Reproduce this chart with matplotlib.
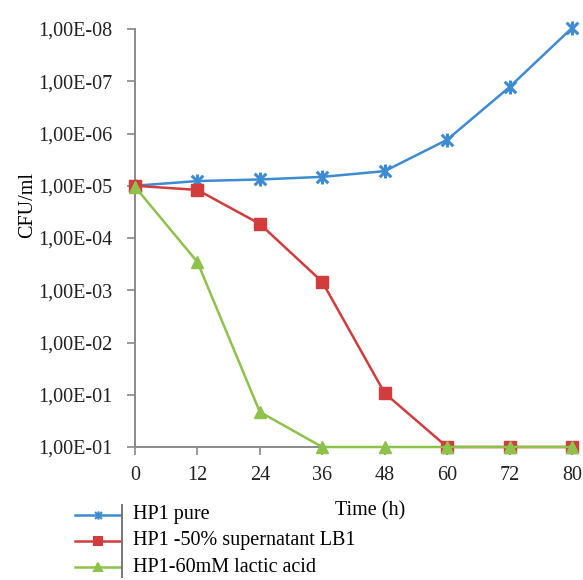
import matplotlib
matplotlib.use("Agg")
import matplotlib.pyplot as plt
from matplotlib.lines import Line2D
from matplotlib.path import Path

plt.rcParams['font.family'] = ['Liberation Serif', 'DejaVu Serif']

# time points (plotted as evenly spaced categories, like the original)
times = ['0', '12', '24', '36', '48', '60', '72', '80']
# y tick labels, bottom to top, exactly as printed in the source figure
ytick_labels = ['1,00E-01', '1,00E-01', '1,00E-02', '1,00E-03', '1,00E-04',
                '1,00E-05', '1,00E-06', '1,00E-07', '1,00E-08']

# values in tick units (0 = bottom tick, 8 = top tick)
hp1_pure = [5.0, 5.09, 5.12, 5.17, 5.28, 5.88, 6.89, 8.02]
hp1_sup = [5.0, 4.92, 4.27, 3.16, 1.03, 0.0, 0.0, 0.0]
hp1_lactic = [4.98, 3.54, 0.67, 0.0, 0.0, 0.0, 0.0, 0.0]

c_blue = '#3d8bd3'
c_red = '#d23c3c'
c_green = '#8fc24a'

# excel-like star: an x with a vertical bar through it
star = Path([(-1, -1), (1, 1), (-1, 1), (1, -1), (0, -1.2), (0, 1.2)],
            [Path.MOVETO, Path.LINETO, Path.MOVETO, Path.LINETO, Path.MOVETO, Path.LINETO])

fs = 14.5

fig = plt.figure(figsize=(5.83, 5.80), dpi=100)
ax = fig.add_axes([135 / 583, 1 - 447 / 580, 437 / 583, 418 / 580])

x = range(len(times))
ax.plot(x, hp1_pure, color=c_blue, lw=1.8, marker=star, ms=10, mew=2.2,
        label='HP1 pure', zorder=3, clip_on=False)
ax.plot(x, hp1_sup, color=c_red, lw=1.8, marker='s', ms=8,
        label='HP1 -50% supernatant LB1', zorder=4, clip_on=False)
ax.plot(x, hp1_lactic, color=c_green, lw=1.8, marker='^', ms=9,
        label='HP1-60mM lactic acid', zorder=5, clip_on=False)

ax.set_xlim(0, len(times) - 1)
ax.set_ylim(0, len(ytick_labels) - 1)
ax.set_xticks(list(x))
ax.set_xticklabels(times)
ax.set_yticks(range(len(ytick_labels)))
ax.set_yticklabels(ytick_labels)
ax.tick_params(labelsize=fs, colors='#222222', length=6, width=1.2,
               color='#888888')
ax.tick_params(axis='y', pad=10)
ax.tick_params(axis='x', pad=8)
for s in ['top', 'right']:
    ax.spines[s].set_visible(False)
for s in ['left', 'bottom']:
    ax.spines[s].set_color('#8a8a8a')
    ax.spines[s].set_linewidth(1.4)
ax.spines['left'].set_zorder(2)

ax.set_ylabel('CFU/ml', fontsize=fs)
ax.yaxis.set_label_coords(-0.225, 0.58)
fig.text(370 / 583, 1 - 511 / 580, 'Time (h)', ha='center', va='center', fontsize=fs)

# legend drawn by hand below the plot, Excel style
leg_y = [515, 541, 567]
for series, yy in zip([(c_blue, star, 'HP1 pure'),
                       (c_red, 's', 'HP1 -50% supernatant LB1'),
                       (c_green, '^', 'HP1-60mM lactic acid')], leg_y):
    col, mk, lab = series
    fy = 1 - yy / 580
    fig.add_artist(Line2D([75 / 583, 121 / 583], [fy, fy], color=col, lw=1.8))
    fig.add_artist(Line2D([98 / 583], [fy], color=col, marker=mk, ms=6, mew=1.5))
    fig.text(133 / 583, fy, lab, ha='left', va='center', fontsize=fs)
fig.add_artist(Line2D([122 / 583, 122 / 583], [1 - 505 / 580, 1 - 577 / 580],
                      color='#777777', lw=1.4))

fig.savefig('out.png', dpi=100)
